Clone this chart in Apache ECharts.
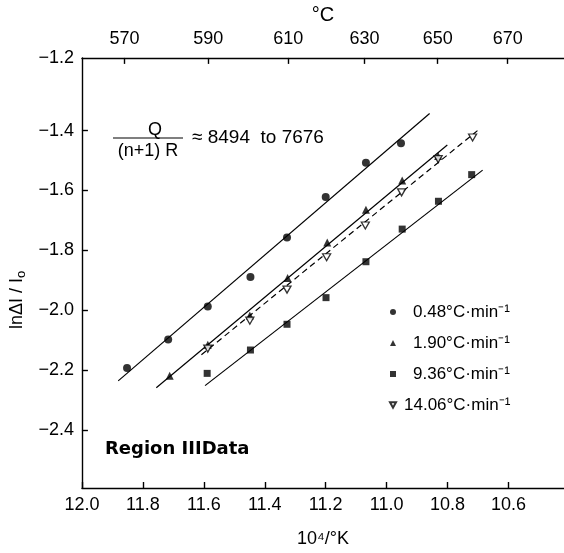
<!DOCTYPE html>
<html><head><meta charset="utf-8">
<script src="https://cdn.jsdelivr.net/npm/echarts@6/dist/echarts.min.js"></script>
<style>html,body{margin:0;padding:0;background:#fff}#c{width:564px;height:553px}</style>
</head><body><div id="c"></div>
<script>
// ---- data ----
const xTicks = [12.0, 11.8, 11.6, 11.4, 11.2, 11.0, 10.8, 10.6];
const yTicks = [-2.4, -2.2, -2.0, -1.8, -1.6, -1.4];
const celsiusTicks = [570, 590, 610, 630, 650, 670];

const names = ['0.48°C·min⁻¹', '1.90°C·min⁻¹', '9.36°C·min⁻¹', '14.06°C·min⁻¹'];

const s048X = [11.852, 11.717, 11.587, 11.447, 11.327, 11.200, 11.068, 10.953];
const s048Y = [-2.193, -2.098, -1.988, -1.889, -1.757, -1.622, -1.507, -1.442];
const s190X = [11.712, 11.587, 11.449, 11.325, 11.195, 11.068, 10.949, 10.831];
const s190Y = [-2.219, -2.115, -2.018, -1.892, -1.774, -1.664, -1.567, -1.485];
const s936X = [11.589, 11.447, 11.327, 11.199, 11.068, 10.949, 10.830, 10.721];
const s936Y = [-2.211, -2.133, -2.047, -1.958, -1.838, -1.729, -1.636, -1.547];
const s1406X = [11.587, 11.449, 11.327, 11.197, 11.070, 10.951, 10.831, 10.718];
const s1406Y = [-2.128, -2.035, -1.931, -1.823, -1.717, -1.606, -1.495, -1.423];

const fit048X = [11.881, 10.859], fit048Y = [-2.236, -1.343];
const fit190X = [11.756, 10.801], fit190Y = [-2.259, -1.448];
const fit936X = [11.596, 10.685], fit936Y = [-2.252, -1.532];
const fit1406X = [11.608, 10.702], fit1406Y = [-2.149, -1.400];

const xMin = 10.418, xMax = 12.0;
const yMin = -2.594, yMax = -1.157;

// ---- build ----
const zip = (a, b) => a.map((v, i) => [v, b[i]]);
const FONT = '"Liberation Sans", Arial, sans-serif';
const invTri = 'path://M0,0 L10,0 L5,9 Z';

const chart = echarts.init(document.getElementById('c'), null, {renderer: 'canvas'});
const axisLineStyle = {color: '#000', width: 1.4};
const labelStyle = {color: '#000', fontFamily: FONT, fontSize: 18};

const toInvK = c => 1e4 / (c + 273.15);

const scatterBase = {type: 'scatter', xAxisIndex: 0, yAxisIndex: 0, z: 5};

chart.setOption({
  animation: false,
  backgroundColor: '#fff',
  grid: {left: 77.3, right: 0, top: 56, bottom: 62.3, containLabel: false},
  xAxis: [{
    type: 'value', min: xMin, max: xMax, inverse: true, position: 'bottom',
    axisLine: {show: true, lineStyle: axisLineStyle},
    axisTick: {show: true, inside: true, length: 6, lineStyle: axisLineStyle, customValues: xTicks},
    axisLabel: Object.assign({margin: 8, customValues: xTicks, formatter: v => v.toFixed(1)}, labelStyle),
    splitLine: {show: false},
    name: '10⁴/°K', nameLocation: 'middle', nameGap: 42,
    nameTextStyle: {color: '#000', fontFamily: FONT, fontSize: 18}
  }, {
    type: 'value', min: xMin, max: xMax, inverse: true, position: 'top',
    axisLine: {show: true, lineStyle: axisLineStyle},
    axisTick: {show: true, inside: true, length: 6, lineStyle: axisLineStyle, customValues: celsiusTicks.map(toInvK)},
    axisLabel: Object.assign({margin: 10, customValues: celsiusTicks.map(toInvK),
      formatter: v => String(Math.round(1e4 / v - 273.15))}, labelStyle),
    splitLine: {show: false},
    name: '°C', nameLocation: 'middle', nameGap: 32,
    nameTextStyle: {color: '#000', fontFamily: FONT, fontSize: 20}
  }],
  yAxis: [{
    type: 'value', min: yMin, max: yMax,
    axisLine: {show: true, lineStyle: axisLineStyle},
    axisTick: {show: true, inside: true, length: 6, lineStyle: axisLineStyle, customValues: yTicks},
    axisLabel: Object.assign({margin: 8, customValues: yTicks.concat([yMax]),
      formatter: v => (v > -1.19 ? '−1.2' : '−' + Math.abs(v).toFixed(1))}, labelStyle),
    splitLine: {show: false},
    name: 'lnΔI / I{s|o}', nameLocation: 'middle', nameGap: 40, nameRotate: 90,
    nameTextStyle: {color: '#000', fontFamily: FONT, fontSize: 18, padding: [0, 54, 0, 0],
      rich: {s: {fontFamily: FONT, fontSize: 13, padding: [8, 0, 0, 0], color: '#000'}}}
  }],
  legend: {
    orient: 'vertical', left: 384, top: 297, itemWidth: 6, itemHeight: 6, itemGap: 11,
    selectedMode: false,
    textStyle: {color: '#000', fontFamily: FONT, fontSize: 17, lineHeight: 20},
    data: [
      {name: names[0], textStyle: {padding: [0, 0, 0, 12]}},
      {name: names[1], textStyle: {padding: [0, 0, 0, 12]}},
      {name: names[2], textStyle: {padding: [0, 0, 0, 12]}},
      {name: names[3], textStyle: {padding: [0, 0, 0, 3]}}
    ]
  },
  graphic: [
    {type: 'text', left: 105, top: 440, style: {text: 'Region IIIData', fill: '#000',
      font: 'bold 18px "DejaVu Sans", sans-serif'}},
    {type: 'text', x: 155, y: 130, style: {text: 'Q', fill: '#000', font: '18px ' + FONT, align: 'center', verticalAlign: 'middle'}},
    {type: 'line', shape: {x1: 113, y1: 138, x2: 183, y2: 138}, style: {stroke: '#000', lineWidth: 1.2}},
    {type: 'text', x: 148, y: 151, style: {text: '(n+1) R', fill: '#000', font: '18px ' + FONT, align: 'center', verticalAlign: 'middle'}},
    {type: 'text', x: 192, y: 138, style: {text: '≈ 8494  to 7676', fill: '#000', font: '19px ' + FONT, align: 'left', verticalAlign: 'middle'}}
  ],
  series: [
    {type: 'line', data: zip(fit048X, fit048Y), showSymbol: false, symbol: 'none', lineStyle: {color: '#000', width: 1.2}, silent: true, z: 3},
    {type: 'line', data: zip(fit190X, fit190Y), showSymbol: false, symbol: 'none', lineStyle: {color: '#000', width: 1.2}, silent: true, z: 3},
    {type: 'line', data: zip(fit936X, fit936Y), showSymbol: false, symbol: 'none', lineStyle: {color: '#000', width: 1.2}, silent: true, z: 3},
    {type: 'line', data: zip(fit1406X, fit1406Y), showSymbol: false, symbol: 'none', lineStyle: {color: '#000', width: 1.2, type: [6, 4]}, silent: true, z: 3},
    Object.assign({name: names[0], data: zip(s048X, s048Y), symbol: 'circle', symbolSize: 8,
      itemStyle: {color: '#000'}}, scatterBase),
    Object.assign({name: names[1], data: zip(s190X, s190Y), symbol: 'triangle', symbolSize: 8,
      itemStyle: {color: '#000'}}, scatterBase),
    Object.assign({name: names[2], data: zip(s936X, s936Y), symbol: 'rect', symbolSize: 7,
      itemStyle: {color: '#000'}}, scatterBase),
    Object.assign({name: names[3], data: zip(s1406X, s1406Y), symbol: invTri, symbolSize: [8, 7],
      itemStyle: {color: '#fff', borderColor: '#000', borderWidth: 1.3}}, scatterBase)
  ]
});
</script></body></html>
